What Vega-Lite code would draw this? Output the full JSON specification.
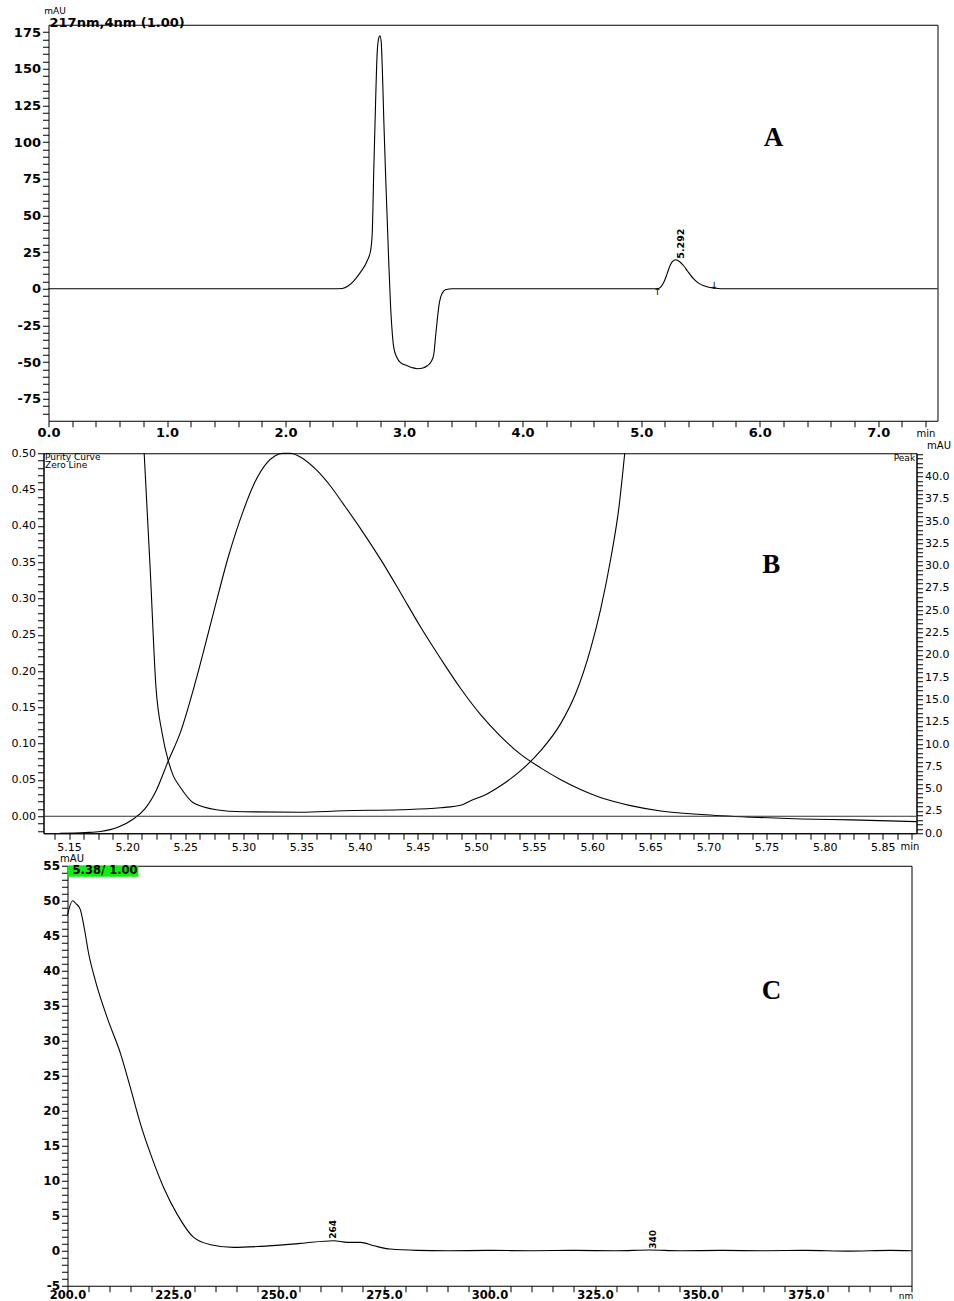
{
  "$schema": "https://vega.github.io/schema/vega-lite/v6.json",
  "background": "white",
  "padding": {"left": 10.5, "top": 6.75, "right": 0, "bottom": 0},
  "bounds": "flush",
  "spacing": 32.5,
  "config": {
    "view": {"stroke": "black", "strokeWidth": 1},
    "axis": {"grid": false, "domainColor": "black", "tickColor": "black", "labelColor": "black", "titleColor": "black", "labelFont": "DejaVu Sans", "titleFont": "DejaVu Sans", "titleFontWeight": "normal", "labelFlush": false, "labelOverlap": false, "labelBound": false, "domainWidth": 1, "tickWidth": 1, "labelPadding": 2, "tickSize": 6},
    "line": {"color": "black", "strokeWidth": 1.1},
    "text": {"font": "DejaVu Sans", "color": "black"}
  },
  "datasets": {
    "chromA": [
      {"t": 0, "v": 0}, {"t": 1.0, "v": 0}, {"t": 2.0, "v": 0}, {"t": 2.4, "v": 0}, {"t": 2.478, "v": 0.2},
      {"t": 2.53, "v": 2}, {"t": 2.576, "v": 5.4}, {"t": 2.63, "v": 11}, {"t": 2.689, "v": 19.1}, {"t": 2.717, "v": 25.9},
      {"t": 2.731, "v": 37.5}, {"t": 2.744, "v": 80.4}, {"t": 2.759, "v": 126}, {"t": 2.773, "v": 161}, {"t": 2.787, "v": 171.2},
      {"t": 2.797, "v": 172.5}, {"t": 2.807, "v": 168}, {"t": 2.82, "v": 140}, {"t": 2.829, "v": 114.4}, {"t": 2.845, "v": 75},
      {"t": 2.858, "v": 46.3}, {"t": 2.872, "v": 15}, {"t": 2.885, "v": -10.2}, {"t": 2.9, "v": -30}, {"t": 2.913, "v": -40.2},
      {"t": 2.94, "v": -47}, {"t": 2.97, "v": -50.4}, {"t": 3.026, "v": -52.5}, {"t": 3.07, "v": -53.8}, {"t": 3.111, "v": -54.5},
      {"t": 3.16, "v": -54}, {"t": 3.195, "v": -52.5}, {"t": 3.23, "v": -49.5}, {"t": 3.251, "v": -44.3}, {"t": 3.265, "v": -33},
      {"t": 3.279, "v": -21.8}, {"t": 3.293, "v": -12}, {"t": 3.307, "v": -6.1}, {"t": 3.33, "v": -2}, {"t": 3.349, "v": -0.7},
      {"t": 3.406, "v": 0}, {"t": 4.0, "v": 0}, {"t": 4.826, "v": 0}, {"t": 5.135, "v": 0}, {"t": 5.16, "v": 0.8},
      {"t": 5.191, "v": 4.4}, {"t": 5.22, "v": 10.5}, {"t": 5.248, "v": 16.6}, {"t": 5.27, "v": 19}, {"t": 5.29, "v": 19.8},
      {"t": 5.31, "v": 19.3}, {"t": 5.332, "v": 17.9}, {"t": 5.36, "v": 15.5}, {"t": 5.389, "v": 12.3}, {"t": 5.445, "v": 6.6},
      {"t": 5.49, "v": 3.5}, {"t": 5.529, "v": 2.0}, {"t": 5.57, "v": 1.0}, {"t": 5.613, "v": 0.5}, {"t": 5.669, "v": 0},
      {"t": 6.5, "v": 0}, {"t": 7.5, "v": 0}
    ],
    "textA": [
      {"t": 0.0, "v": 180.9, "label": "217nm,4nm (1.00)", "kind": "header"},
      {"t": 6.117, "v": 102.9, "label": "A", "kind": "letter"},
      {"t": 5.292, "v": 20.5, "label": "5.292", "kind": "peak"},
      {"t": 5.135, "v": 0, "label": "↑", "kind": "up"},
      {"t": 5.613, "v": 0, "label": "↓", "kind": "down"}
    ],
    "peakB": [
      {"t": 5.142, "mau": 0.0}, {"t": 5.164, "mau": 0.08}, {"t": 5.177, "mau": 0.2}, {"t": 5.192, "mau": 0.67},
      {"t": 5.205, "mau": 1.57}, {"t": 5.215, "mau": 2.7}, {"t": 5.225, "mau": 4.8}, {"t": 5.235, "mau": 8.0},
      {"t": 5.246, "mau": 11.4}, {"t": 5.259, "mau": 17.1}, {"t": 5.274, "mau": 24.6}, {"t": 5.287, "mau": 31.0},
      {"t": 5.3, "mau": 36.2}, {"t": 5.31, "mau": 39.4}, {"t": 5.32, "mau": 41.5}, {"t": 5.327, "mau": 42.3},
      {"t": 5.334, "mau": 42.6}, {"t": 5.34, "mau": 42.6}, {"t": 5.35, "mau": 42.1}, {"t": 5.363, "mau": 40.7},
      {"t": 5.375, "mau": 38.9}, {"t": 5.386, "mau": 36.9}, {"t": 5.401, "mau": 34.1}, {"t": 5.418, "mau": 30.7},
      {"t": 5.435, "mau": 27.0}, {"t": 5.452, "mau": 23.2}, {"t": 5.47, "mau": 19.5}, {"t": 5.487, "mau": 16.2},
      {"t": 5.504, "mau": 13.3}, {"t": 5.521, "mau": 10.9}, {"t": 5.538, "mau": 8.9}, {"t": 5.556, "mau": 7.3},
      {"t": 5.573, "mau": 6.0}, {"t": 5.59, "mau": 4.9}, {"t": 5.607, "mau": 4.0}, {"t": 5.633, "mau": 3.1},
      {"t": 5.659, "mau": 2.5}, {"t": 5.694, "mau": 2.1}, {"t": 5.737, "mau": 1.8}, {"t": 5.78, "mau": 1.6},
      {"t": 5.823, "mau": 1.5}, {"t": 5.879, "mau": 1.3}
    ],
    "purityB": [
      {"t": 5.2146, "p": 0.5}, {"t": 5.2198, "p": 0.34}, {"t": 5.2247, "p": 0.179}, {"t": 5.2301, "p": 0.114},
      {"t": 5.2353, "p": 0.0766}, {"t": 5.2396, "p": 0.056}, {"t": 5.2454, "p": 0.0407}, {"t": 5.2568, "p": 0.0186},
      {"t": 5.2766, "p": 0.009}, {"t": 5.2999, "p": 0.0062}, {"t": 5.349, "p": 0.0055}, {"t": 5.386, "p": 0.0076},
      {"t": 5.435, "p": 0.009}, {"t": 5.4696, "p": 0.0117}, {"t": 5.4885, "p": 0.0159}, {"t": 5.4954, "p": 0.0214},
      {"t": 5.5083, "p": 0.0297}, {"t": 5.5212, "p": 0.042}, {"t": 5.5385, "p": 0.0628}, {"t": 5.5557, "p": 0.0903},
      {"t": 5.5729, "p": 0.1276}, {"t": 5.5858, "p": 0.169}, {"t": 5.5987, "p": 0.231}, {"t": 5.6074, "p": 0.286},
      {"t": 5.616, "p": 0.355}, {"t": 5.6229, "p": 0.424}, {"t": 5.628, "p": 0.5}
    ],
    "zeroB": [{"p": 0}],
    "textB": [
      {"t": 5.1293, "p": 0.4945, "label": "Purity Curve", "kind": "tl"},
      {"t": 5.1293, "p": 0.4834, "label": "Zero Line", "kind": "tl"},
      {"t": 5.8778, "p": 0.4931, "label": "Peak", "kind": "tr"},
      {"t": 5.754, "p": 0.3455, "label": "B", "kind": "letter"}
    ],
    "specC": [
      {"nm": 200.0, "v": 48.0}, {"nm": 201.2, "v": 50.0}, {"nm": 202.0, "v": 49.6}, {"nm": 203.0, "v": 48.8},
      {"nm": 204.0, "v": 46.0}, {"nm": 205.0, "v": 42.5}, {"nm": 206.6, "v": 38.6}, {"nm": 209.4, "v": 33.3},
      {"nm": 212.6, "v": 28.1}, {"nm": 214.9, "v": 23.3}, {"nm": 217.3, "v": 18.1}, {"nm": 219.7, "v": 13.8},
      {"nm": 222.8, "v": 9.0}, {"nm": 226.0, "v": 5.2}, {"nm": 229.9, "v": 1.9}, {"nm": 233.9, "v": 0.86},
      {"nm": 239.4, "v": 0.48}, {"nm": 245.7, "v": 0.62}, {"nm": 255.2, "v": 1.05}, {"nm": 263.1, "v": 1.43},
      {"nm": 266.3, "v": 1.19}, {"nm": 269.4, "v": 1.19}, {"nm": 272.6, "v": 0.71}, {"nm": 276.5, "v": 0.24},
      {"nm": 282.9, "v": 0.05}, {"nm": 290, "v": 0.0}, {"nm": 300, "v": 0.05}, {"nm": 310, "v": 0.0},
      {"nm": 320, "v": 0.05}, {"nm": 330, "v": 0.0}, {"nm": 338, "v": 0.1}, {"nm": 345, "v": 0.0},
      {"nm": 355, "v": 0.05}, {"nm": 365, "v": 0.0}, {"nm": 375, "v": 0.05}, {"nm": 385, "v": -0.05},
      {"nm": 395, "v": 0.05}, {"nm": 400, "v": 0.0}
    ],
    "boxC": [{"x1": 200, "x2": 216.8, "y1": 55, "y2": 53.43}],
    "textC": [
      {"nm": 201.2, "v": 54.25, "label": "5.38/ 1.00", "kind": "box"},
      {"nm": 366.8, "v": 37.1, "label": "C", "kind": "letter"},
      {"nm": 264, "v": 1.7, "label": "264", "kind": "peak"},
      {"nm": 340, "v": 0.3, "label": "340", "kind": "peak"}
    ]
  },
  "vconcat": [
    {
      "width": 894,
      "height": 396,
      "view": {"stroke": null},
      "resolve": {"axis": {"x": "independent", "y": "independent"}},
      "layer": [
        {
          "data": {"name": "chromA"},
          "mark": {"type": "line", "interpolate": "monotone"},
          "encoding": {
            "x": {"field": "t", "type": "quantitative",
              "scale": {"domain": [0, 7.5], "range": [5, 894], "nice": false, "zero": false},
              "axis": {"orient": "bottom", "values": [0,0.2,0.4,0.6,0.8,1,1.2,1.4,1.6,1.8,2,2.2,2.4,2.6,2.8,3,3.2,3.4,3.6,3.8,4,4.2,4.4,4.6,4.8,5,5.2,5.4,5.6,5.8,6,6.2,6.4,6.6,6.8,7,7.2,7.4],
                "format": ".1f",
                "labelExpr": "abs(datum.value - round(datum.value)) < 0.001 ? datum.label : ''",
                "labelFontWeight": "bold", "labelFontSize": 13, "labelPadding": 0,
                "encode": {"ticks": {"update": {"y2": {"signal": "abs(datum.value - round(datum.value)) < 0.001 ? 6 : 3.5"}}}},
                "title": "min", "titleFontSize": 10, "titleX": 882, "titleY": 13, "titleAlign": "center", "titleBaseline": "middle"}},
            "y": {"field": "v", "type": "quantitative",
              "scale": {"domain": [-90, 180], "nice": false, "zero": false},
              "axis": {"orient": "left", "offset": -5,
                "values": [-85,-80,-75,-70,-65,-60,-55,-50,-45,-40,-35,-30,-25,-20,-15,-10,-5,0,5,10,15,20,25,30,35,40,45,50,55,60,65,70,75,80,85,90,95,100,105,110,115,120,125,130,135,140,145,150,155,160,165,170,175],
                "labelExpr": "abs(datum.value/25 - round(datum.value/25)) < 0.001 ? '' + datum.value : ''",
                "labelFontWeight": "bold", "labelFontSize": 13,
                "encode": {"ticks": {"update": {"x2": {"signal": "abs(datum.value/25 - round(datum.value/25)) < 0.001 ? -6 : -3.5"}}}},
                "title": "mAU", "titleFontSize": 9, "titleAngle": 0, "titleX": 6, "titleY": -14, "titleAlign": "center", "titleBaseline": "middle"}}
          }
        },
        {
          "data": {"name": "textA"},
          "transform": [{"filter": "datum.kind == 'header'"}],
          "mark": {"type": "text", "align": "left", "baseline": "middle", "fontSize": 13, "fontWeight": "bold", "dx": 1},
          "encoding": {
            "x": {"field": "t", "type": "quantitative", "scale": {"domain": [0, 7.5], "range": [5, 894], "nice": false, "zero": false},
              "axis": {"orient": "top", "labels": false, "ticks": false, "domain": true, "title": null}},
            "y": {"field": "v", "type": "quantitative", "scale": {"domain": [-90, 180], "nice": false, "zero": false},
              "axis": {"orient": "right", "labels": false, "ticks": false, "domain": true, "title": null}},
            "text": {"field": "label"}
          }
        },
        {
          "data": {"name": "textA"},
          "transform": [{"filter": "datum.kind == 'letter'"}],
          "mark": {"type": "text", "align": "center", "baseline": "middle", "font": "Liberation Serif", "fontSize": 27, "fontWeight": "bold"},
          "encoding": {
            "x": {"field": "t", "type": "quantitative", "scale": {"domain": [0, 7.5], "range": [5, 894], "nice": false, "zero": false}, "axis": null},
            "y": {"field": "v", "type": "quantitative", "scale": {"domain": [-90, 180], "nice": false, "zero": false}, "axis": null},
            "text": {"field": "label"}
          }
        },
        {
          "data": {"name": "textA"},
          "transform": [{"filter": "datum.kind == 'peak'"}],
          "mark": {"type": "text", "align": "left", "baseline": "top", "angle": 270, "fontSize": 9.5, "fontWeight": "bold"},
          "encoding": {
            "x": {"field": "t", "type": "quantitative", "scale": {"domain": [0, 7.5], "range": [5, 894], "nice": false, "zero": false}, "axis": null},
            "y": {"field": "v", "type": "quantitative", "scale": {"domain": [-90, 180], "nice": false, "zero": false}, "axis": null},
            "text": {"field": "label"}
          }
        },
        {
          "data": {"name": "textA"},
          "transform": [{"filter": "datum.kind == 'up'"}],
          "mark": {"type": "text", "align": "center", "baseline": "top", "fontSize": 10, "color": "black", "dy": -2},
          "encoding": {
            "x": {"field": "t", "type": "quantitative", "scale": {"domain": [0, 7.5], "range": [5, 894], "nice": false, "zero": false}, "axis": null},
            "y": {"field": "v", "type": "quantitative", "scale": {"domain": [-90, 180], "nice": false, "zero": false}, "axis": null},
            "text": {"field": "label"}
          }
        },
        {
          "data": {"name": "textA"},
          "transform": [{"filter": "datum.kind == 'down'"}],
          "mark": {"type": "text", "align": "center", "baseline": "bottom", "fontSize": 10, "color": "black", "dy": 2},
          "encoding": {
            "x": {"field": "t", "type": "quantitative", "scale": {"domain": [0, 7.5], "range": [5, 894], "nice": false, "zero": false}, "axis": null},
            "y": {"field": "v", "type": "quantitative", "scale": {"domain": [-90, 180], "nice": false, "zero": false}, "axis": null},
            "text": {"field": "label"}
          }
        }
      ]
    },
    {
      "width": 873,
      "height": 380,
      "resolve": {"scale": {"y": "independent"}, "axis": {"x": "independent", "y": "independent"}},
      "layer": [
        {
          "data": {"name": "purityB"},
          "mark": {"type": "line", "interpolate": "monotone"},
          "encoding": {
            "x": {"field": "t", "type": "quantitative",
              "scale": {"domain": [5.128, 5.879], "nice": false, "zero": false},
              "axis": {"orient": "bottom",
                "values": [5.1375,5.15,5.1625,5.175,5.1875,5.2,5.2125,5.225,5.2375,5.25,5.2625,5.275,5.2875,5.3,5.3125,5.325,5.3375,5.35,5.3625,5.375,5.3875,5.4,5.4125,5.425,5.4375,5.45,5.4625,5.475,5.4875,5.5,5.5125,5.525,5.5375,5.55,5.5625,5.575,5.5875,5.6,5.6125,5.625,5.6375,5.65,5.6625,5.675,5.6875,5.7,5.7125,5.725,5.7375,5.75,5.7625,5.775,5.7875,5.8,5.8125,5.825,5.8375,5.85,5.8625,5.875],
                "format": ".2f",
                "labelExpr": "abs(datum.value/0.05 - round(datum.value/0.05)) < 0.001 ? datum.label : ''",
                "labelFontSize": 11,
                "encode": {"ticks": {"update": {"y2": {"signal": "abs(datum.value/0.05 - round(datum.value/0.05)) < 0.001 ? 6 : 3.5"}}}},
                "title": "min", "titleFontSize": 10, "titleX": 866, "titleY": 13, "titleAlign": "center", "titleBaseline": "middle"}},
            "y": {"field": "p", "type": "quantitative",
              "scale": {"domain": [-0.0234, 0.5], "nice": false, "zero": false},
              "axis": {"orient": "left",
                "values": [-0.02,-0.01,0,0.01,0.02,0.03,0.04,0.05,0.06,0.07,0.08,0.09,0.1,0.11,0.12,0.13,0.14,0.15,0.16,0.17,0.18,0.19,0.2,0.21,0.22,0.23,0.24,0.25,0.26,0.27,0.28,0.29,0.3,0.31,0.32,0.33,0.34,0.35,0.36,0.37,0.38,0.39,0.4,0.41,0.42,0.43,0.44,0.45,0.46,0.47,0.48,0.49,0.5],
                "format": ".2f",
                "labelExpr": "abs(datum.value/0.05 - round(datum.value/0.05)) < 0.001 ? datum.label : ''",
                "labelFontSize": 11,
                "encode": {"ticks": {"update": {"x2": {"signal": "abs(datum.value/0.05 - round(datum.value/0.05)) < 0.001 ? -6 : -3.5"}}}},
                "title": null}}
          }
        },
        {
          "data": {"name": "peakB"},
          "mark": {"type": "line", "interpolate": "monotone"},
          "encoding": {
            "x": {"field": "t", "type": "quantitative", "scale": {"domain": [5.128, 5.879], "nice": false, "zero": false}, "axis": null},
            "y": {"field": "mau", "type": "quantitative",
              "scale": {"domain": [0, 42.6], "nice": false, "zero": false},
              "axis": {"orient": "right",
                "values": [0,0.5,1,1.5,2,2.5,3,3.5,4,4.5,5,5.5,6,6.5,7,7.5,8,8.5,9,9.5,10,10.5,11,11.5,12,12.5,13,13.5,14,14.5,15,15.5,16,16.5,17,17.5,18,18.5,19,19.5,20,20.5,21,21.5,22,22.5,23,23.5,24,24.5,25,25.5,26,26.5,27,27.5,28,28.5,29,29.5,30,30.5,31,31.5,32,32.5,33,33.5,34,34.5,35,35.5,36,36.5,37,37.5,38,38.5,39,39.5,40,40.5,41,41.5,42,42.5],
                "format": ".1f",
                "labelExpr": "(abs(datum.value/2.5 - round(datum.value/2.5)) < 0.001 && datum.value <= 40) ? datum.label : ''",
                "labelFontSize": 11,
                "encode": {"ticks": {"update": {"x2": {"signal": "abs(datum.value/2.5 - round(datum.value/2.5)) < 0.001 ? 6 : 3.5"}}}},
                "title": "mAU", "titleFontSize": 10, "titleAngle": 0, "titleX": 22, "titleY": -8, "titleAlign": "center", "titleBaseline": "middle"}}
          }
        },
        {
          "data": {"name": "zeroB"},
          "mark": {"type": "rule", "color": "#333333", "strokeWidth": 1},
          "encoding": {
            "y": {"field": "p", "type": "quantitative", "scale": {"domain": [-0.0234, 0.5], "nice": false, "zero": false}, "axis": null}
          }
        },
        {
          "data": {"name": "textB"},
          "transform": [{"filter": "datum.kind == 'tl'"}],
          "mark": {"type": "text", "align": "left", "baseline": "middle", "fontSize": 9},
          "encoding": {
            "x": {"field": "t", "type": "quantitative", "scale": {"domain": [5.128, 5.879], "nice": false, "zero": false}, "axis": null},
            "y": {"field": "p", "type": "quantitative", "scale": {"domain": [-0.0234, 0.5], "nice": false, "zero": false}, "axis": null},
            "text": {"field": "label"}
          }
        },
        {
          "data": {"name": "textB"},
          "transform": [{"filter": "datum.kind == 'tr'"}],
          "mark": {"type": "text", "align": "right", "baseline": "middle", "fontSize": 9},
          "encoding": {
            "x": {"field": "t", "type": "quantitative", "scale": {"domain": [5.128, 5.879], "nice": false, "zero": false}, "axis": null},
            "y": {"field": "p", "type": "quantitative", "scale": {"domain": [-0.0234, 0.5], "nice": false, "zero": false}, "axis": null},
            "text": {"field": "label"}
          }
        },
        {
          "data": {"name": "textB"},
          "transform": [{"filter": "datum.kind == 'letter'"}],
          "mark": {"type": "text", "align": "center", "baseline": "middle", "font": "Liberation Serif", "fontSize": 27, "fontWeight": "bold"},
          "encoding": {
            "x": {"field": "t", "type": "quantitative", "scale": {"domain": [5.128, 5.879], "nice": false, "zero": false}, "axis": null},
            "y": {"field": "p", "type": "quantitative", "scale": {"domain": [-0.0234, 0.5], "nice": false, "zero": false}, "axis": null},
            "text": {"field": "label"}
          }
        }
      ]
    },
    {
      "width": 868,
      "height": 420,
      "view": {"stroke": null},
      "resolve": {"axis": {"x": "independent", "y": "independent"}},
      "layer": [
        {
          "data": {"name": "boxC"},
          "mark": {"type": "rect", "color": "#11ee11"},
          "encoding": {
            "x": {"field": "x1", "type": "quantitative", "scale": {"domain": [200, 400], "range": [24, 868], "nice": false, "zero": false}, "axis": null},
            "x2": {"field": "x2"},
            "y": {"field": "y1", "type": "quantitative", "scale": {"domain": [-5, 55], "nice": false, "zero": false}, "axis": null},
            "y2": {"field": "y2"}
          }
        },
        {
          "data": {"name": "specC"},
          "mark": {"type": "line", "interpolate": "monotone"},
          "encoding": {
            "x": {"field": "nm", "type": "quantitative",
              "scale": {"domain": [200, 400], "range": [24, 868], "nice": false, "zero": false},
              "axis": {"orient": "bottom",
                "values": [200,205,210,215,220,225,230,235,240,245,250,255,260,265,270,275,280,285,290,295,300,305,310,315,320,325,330,335,340,345,350,355,360,365,370,375,380,385,390,395,400],
                "format": ".1f",
                "labelExpr": "(datum.value % 25 == 0 && datum.value < 390) ? datum.label : ''",
                "labelFontWeight": "bold", "labelFontSize": 11.5, "labelPadding": -2,
                "encode": {
                  "ticks": {"update": {"y2": {"signal": "datum.value % 25 == 0 ? 6 : 3.5"}}},
                  "labels": {"update": {"dx": {"signal": "datum.value == 200 ? 2 : 0"}}}
                },
                "title": "nm", "titleFontSize": 9, "titleX": 862, "titleY": 10, "titleAlign": "center", "titleBaseline": "middle"}},
            "y": {"field": "v", "type": "quantitative",
              "scale": {"domain": [-5, 55], "nice": false, "zero": false},
              "axis": {"orient": "left", "offset": -24,
                "values": [-5,-4,-3,-2,-1,0,1,2,3,4,5,6,7,8,9,10,11,12,13,14,15,16,17,18,19,20,21,22,23,24,25,26,27,28,29,30,31,32,33,34,35,36,37,38,39,40,41,42,43,44,45,46,47,48,49,50,51,52,53,54,55],
                "labelExpr": "datum.value % 5 == 0 ? '' + datum.value : ''",
                "labelFontWeight": "bold", "labelFontSize": 12,
                "encode": {
                  "ticks": {"update": {"x2": {"signal": "datum.value % 5 == 0 ? -6 : -3.5"}}},
                  "labels": {"update": {"dy": {"signal": "datum.value == -5 ? -5 : 0"}, "dx": {"signal": "datum.value == -5 ? -3 : 0"}}}
                },
                "title": "mAU", "titleFontSize": 10, "titleAngle": 0, "titleX": 4, "titleY": -7, "titleAlign": "center", "titleBaseline": "middle"}}
          }
        },
        {
          "data": {"name": "textC"},
          "transform": [{"filter": "datum.kind == 'box'"}],
          "mark": {"type": "text", "align": "left", "baseline": "middle", "fontSize": 11.5, "fontWeight": "bold"},
          "encoding": {
            "x": {"field": "nm", "type": "quantitative", "scale": {"domain": [200, 400], "range": [24, 868], "nice": false, "zero": false},
              "axis": {"orient": "top", "labels": false, "ticks": false, "domain": true, "title": null}},
            "y": {"field": "v", "type": "quantitative", "scale": {"domain": [-5, 55], "nice": false, "zero": false},
              "axis": {"orient": "right", "labels": false, "ticks": false, "domain": true, "title": null}},
            "text": {"field": "label"}
          }
        },
        {
          "data": {"name": "textC"},
          "transform": [{"filter": "datum.kind == 'letter'"}],
          "mark": {"type": "text", "align": "center", "baseline": "middle", "font": "Liberation Serif", "fontSize": 27, "fontWeight": "bold"},
          "encoding": {
            "x": {"field": "nm", "type": "quantitative", "scale": {"domain": [200, 400], "range": [24, 868], "nice": false, "zero": false}, "axis": null},
            "y": {"field": "v", "type": "quantitative", "scale": {"domain": [-5, 55], "nice": false, "zero": false}, "axis": null},
            "text": {"field": "label"}
          }
        },
        {
          "data": {"name": "textC"},
          "transform": [{"filter": "datum.kind == 'peak'"}],
          "mark": {"type": "text", "align": "left", "baseline": "bottom", "angle": 270, "fontSize": 9, "fontWeight": "bold"},
          "encoding": {
            "x": {"field": "nm", "type": "quantitative", "scale": {"domain": [200, 400], "range": [24, 868], "nice": false, "zero": false}, "axis": null},
            "y": {"field": "v", "type": "quantitative", "scale": {"domain": [-5, 55], "nice": false, "zero": false}, "axis": null},
            "text": {"field": "label"}
          }
        }
      ]
    }
  ]
}
